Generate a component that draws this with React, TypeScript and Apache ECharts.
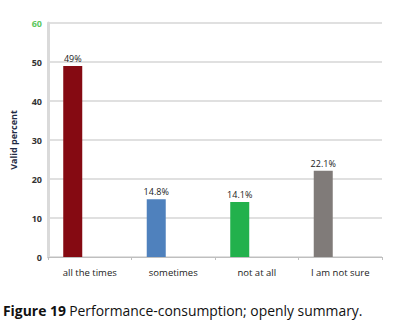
import React, { useEffect, useRef } from "react";
import * as echarts from "echarts";

const categories = ["all the times", "sometimes", "not at all", "I am not sure"];
const values = [49, 14.8, 14.1, 22.1];
const valueLabels = ["49%", "14.8%", "14.1%", "22.1%"];
const barColors = ["#850A12", "#4F81BD", "#22B14C", "#807B79"];
const yTicks = [0, 10, 20, 30, 40, 50, 60];

export default function App() {
  const ref = useRef<HTMLDivElement>(null);
  useEffect(() => {
    document.body.style.margin = "0";
    const chart = echarts.init(ref.current!, undefined, { renderer: "svg" });
    chart.setOption({
      animation: false,
      backgroundColor: "#ffffff",
      grid: { left: 48, right: 13, top: 23, bottom: 70, containLabel: false },
      xAxis: {
        type: "category",
        data: categories,
        axisLine: { show: true, lineStyle: { color: "#BFBFBF", width: 1 } },
        axisTick: { show: true, alignWithLabel: false, length: 3, lineStyle: { color: "#BFBFBF" } },
        axisLabel: {
          color: "#1a1a1a",
          fontSize: 9.5,
          fontFamily: "Open Sans",
          margin: 10,
        },
      },
      yAxis: {
        type: "value",
        min: 0,
        max: 60,
        interval: 10,
        name: "Valid percent",
        nameLocation: "middle",
        nameGap: 30,
        nameRotate: 90,
        nameTextStyle: { color: "#1F2A44", fontSize: 9, fontWeight: "bold", fontFamily: "Open Sans" },
        axisLine: { show: true, lineStyle: { color: "#DADADA", width: 3 } },
        axisTick: { show: false },
        splitLine: { show: true, lineStyle: { color: "#D6D6D6", width: 1.5 } },
        axisLabel: {
          fontSize: 9,
          fontWeight: "bold",
          fontFamily: "Open Sans",
          margin: 6,
          color: (v: any) => (Number(v) === yTicks[yTicks.length - 1] ? "#5CC85C" : "#333333"),
        },
      },
      series: [
        {
          type: "bar",
          barWidth: 19,
          barGap: "79%",
          data: values.map((v, i) => ({ value: v, itemStyle: { color: barColors[i] } })),
          label: {
            show: true,
            position: "top",
            distance: 3,
            fontSize: 9,
            fontFamily: "Open Sans",
            color: "#222",
            formatter: (p: any) => valueLabels[p.dataIndex],
          },
        },
        {
          type: "bar",
          barWidth: 19,
          data: categories.map(() => "-"),
        },
      ],
      graphic: [
        {
          type: "text",
          left: 3,
          top: 303,
          style: {
            rich: {
              b: { fontWeight: "bold", fontSize: 13.9, fontFamily: "Open Sans", fill: "#111" },
              n: { fontSize: 13.9, fontFamily: "Open Sans", fill: "#111" },
            },
            text: "{b|Figure 19} {n|Performance-consumption; openly summary.}",
          },
        },
      ],
    });
    return () => chart.dispose();
  }, []);
  return <div ref={ref} style={{ width: 395, height: 327 }} />;
}
